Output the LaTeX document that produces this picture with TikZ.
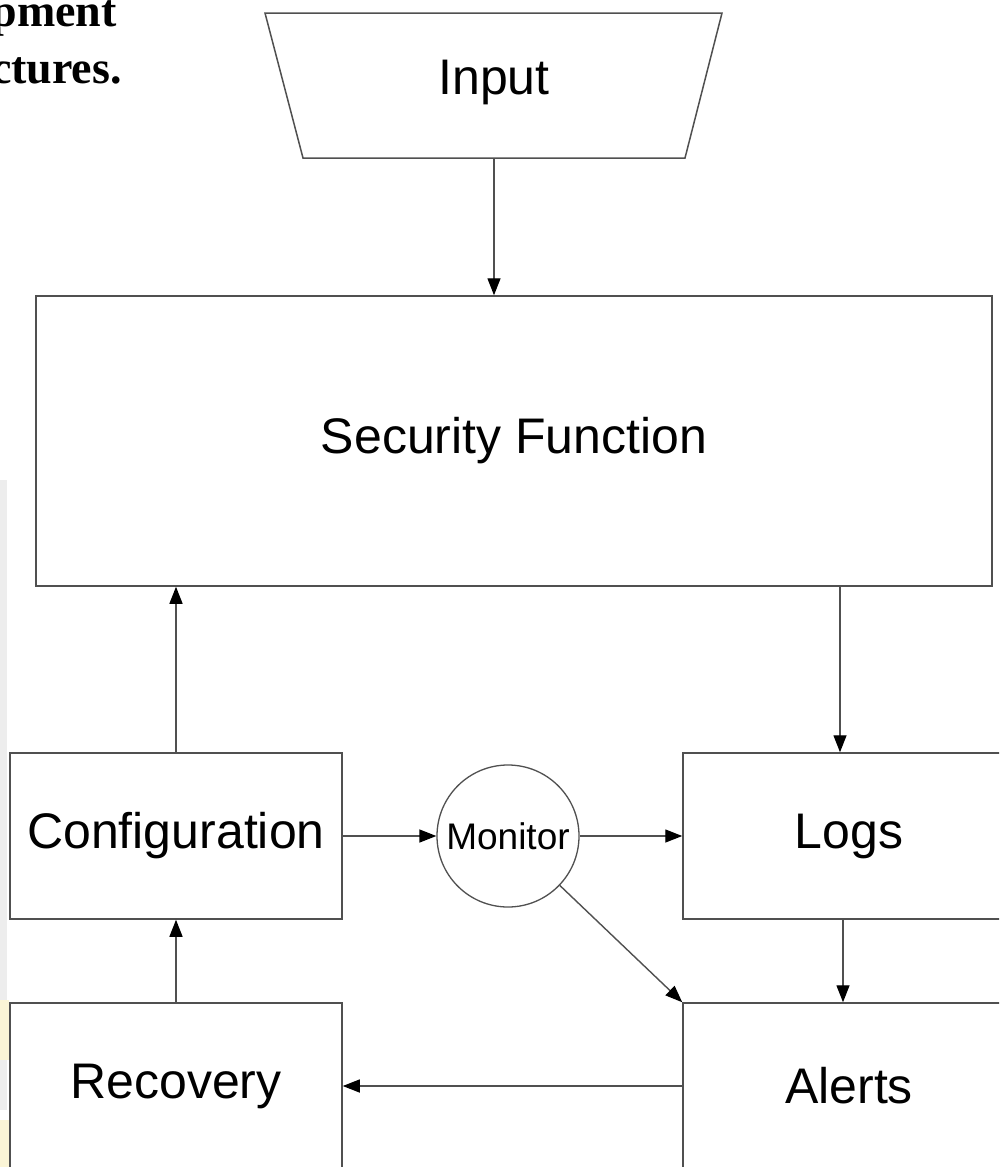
\documentclass[tikz,border=0pt]{standalone}
\usepackage{fontspec}
\setmainfont{Liberation Sans}
\newfontfamily\headserif{Liberation Serif}
\usetikzlibrary{arrows.meta}
\definecolor{linegray}{HTML}{505050}
\definecolor{edgeshade}{HTML}{EDEDED}
\definecolor{edgeyellow}{HTML}{FBF5D6}

\begin{document}
\begin{tikzpicture}[x=1pt,y=-1pt,
  stroke/.style={draw=linegray, line width=1.5pt},
  box/.style={stroke, fill=white, minimum width=332pt, minimum height=166pt,
    inner sep=0pt, font=\fontsize{50}{60}\selectfont},
  conn/.style={draw=linegray, line width=1.4pt,
    -{Triangle[length=17pt,width=13pt,color=black]}},
  heading/.style={anchor=base east, inner sep=0pt,
    font=\headserif\bfseries\fontsize{46}{52}\selectfont}]

% page and clipping frame
\useasboundingbox (0,0) rectangle (999,1167);
\clip (0,0) rectangle (999,1167);
\fill[white] (0,0) rectangle (999,1167);

% faint band along the left edge
\fill[edgeshade] (0,480) rectangle (7,1110);
\fill[edgeyellow] (0,1000) rectangle (9,1060);
\fill[edgeyellow] (0,1120) rectangle (9,1167);

% heading fragments at the top left
\node[heading] (headA) at (117,26) {pment};
\node[heading] (headB) at (122,83) {ctures.};

% input trapezoid
\coordinate (inTL) at (265,13);
\coordinate (inTR) at (722,13);
\coordinate (inBR) at (685,158);
\coordinate (inBL) at (303,158);
\coordinate (inB) at (494,158);
\draw[stroke, fill=white] (inTL) -- (inTR) -- (inBR) -- (inBL) -- cycle;
\node[font=\fontsize{50}{60}\selectfont, inner sep=0pt] (input) at (494,82) {Input};

% blocks
\node[box, minimum width=956pt, minimum height=290pt] (sec) at (514,441) {Security Function};
\node[box] (conf) at (176,836) {Configuration};
\node[box] (rec) at (176,1086) {Recovery};
\node[box] (logs) at (849,836) {Logs};
\node[box] (alerts) at (849,1086) {Alerts};
\node[draw=linegray, line width=1.3pt, circle, fill=white, minimum size=142pt,
  inner sep=0pt, font=\fontsize{37}{44}\selectfont] (mon) at (508,836) {Monitor};

% connectors
\draw[conn] (inB) -- (inB |- sec.north);
\draw[conn] (conf.north) -- (conf.north |- sec.south);
\draw[conn] ([xshift=-9pt]logs.north |- sec.south) -- ([xshift=-9pt]logs.north);
\draw[conn] (conf.east) -- (mon.west);
\draw[conn] (mon.east) -- (logs.west);
\draw[conn] (mon) -- (alerts.north west);
\draw[conn] ([xshift=-6pt]logs.south) -- ([xshift=-6pt]alerts.north);
\draw[conn] (alerts.west) -- (rec.east);
\draw[conn] (rec.north) -- (conf.south);
\end{tikzpicture}
\end{document}
